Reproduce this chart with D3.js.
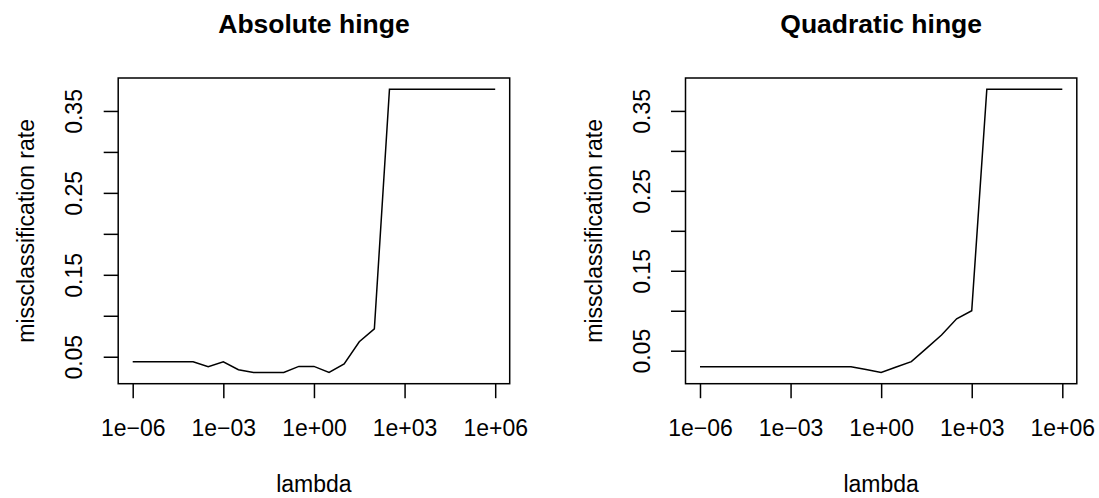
<!DOCTYPE html>
<html>
<head>
<meta charset="utf-8">
<script src="https://cdn.jsdelivr.net/npm/d3@7"></script>
<style>
  body { margin: 0; background: #fff; }
  text { font-family: "Liberation Sans", Arial, sans-serif; fill: #000; }
</style>
</head>
<body>
<svg id="chart" width="1099" height="498"></svg>
<script>
// lambda exponents: 10^-6 ... 10^6 in half-decade steps
const lambdaExp = [-6, -5.5, -5, -4.5, -4, -3.5, -3, -2.5, -2, -1.5, -1, -0.5,
  0, 0.5, 1, 1.5, 2, 2.5, 3, 3.5, 4, 4.5, 5, 5.5, 6];

// misclassification rate, absolute hinge
const absRate = [0.0439, 0.0439, 0.0439, 0.0439, 0.0439, 0.0378, 0.0439, 0.0341,
  0.0309, 0.0309, 0.0309, 0.0382, 0.0382, 0.0309, 0.0411, 0.0683, 0.0841,
  0.3764, 0.3764, 0.3764, 0.3764, 0.3764, 0.3764, 0.3764, 0.3764];

// misclassification rate, quadratic hinge
const quadRate = [0.030, 0.030, 0.030, 0.030, 0.030, 0.030, 0.030, 0.030,
  0.030, 0.030, 0.030, 0.0265, 0.0229, 0.0296, 0.0363, 0.0529, 0.0696,
  0.090, 0.100, 0.377, 0.377, 0.377, 0.377, 0.377, 0.377];

const xTicks = [1e-6, 1e-3, 1e0, 1e3, 1e6];
const xTickLabels = ["1e\u221206", "1e\u221203", "1e+00", "1e+03", "1e+06"];
const yTicks = [0.05, 0.10, 0.15, 0.20, 0.25, 0.30, 0.35];
const yTickLabels = ["0.05", "", "0.15", "", "0.25", "", "0.35"];

const titles = ["Absolute hinge", "Quadratic hinge"];
const series = [absRate, quadRate];

const svg = d3.select("#chart");
const panels = [
  { left: 118.2, right: 509.7 },
  { left: 685.5, right: 1076.8 }
];
const plotTop = 78, plotBottom = 383.7;
const fs = 23;

// R style axis range: data range extended by 4% each side
function pad(ext) {
  const d = (ext[1] - ext[0]) * 0.04;
  return [ext[0] - d, ext[1] + d];
}

panels.forEach((p, i) => {
  const vals = series[i];
  const xe = pad(d3.extent(lambdaExp));
  const x = d3.scaleLog()
    .domain([Math.pow(10, xe[0]), Math.pow(10, xe[1])])
    .range([p.left, p.right]);
  const y = d3.scaleLinear()
    .domain(pad(d3.extent(vals)))
    .range([plotBottom, plotTop]);

  const g = svg.append("g");

  // box
  g.append("rect")
    .attr("x", p.left).attr("y", plotTop)
    .attr("width", p.right - p.left).attr("height", plotBottom - plotTop)
    .attr("fill", "none").attr("stroke", "#000").attr("stroke-width", 1.5);

  // x axis
  const xa = g.append("g")
    .attr("transform", `translate(0,${plotBottom})`)
    .call(d3.axisBottom(x).tickValues(xTicks).tickSize(14.5).tickSizeOuter(0)
      .tickFormat((d, j) => xTickLabels[j]));
  xa.select(".domain").attr("stroke-width", 0);
  xa.selectAll("line").attr("stroke-width", 1.5);
  xa.selectAll("text").attr("font-size", fs).attr("dy", 0).attr("y", 52)
    .attr("font-family", "Liberation Sans, Arial, sans-serif");

  // y axis
  const ya = g.append("g")
    .attr("transform", `translate(${p.left},0)`)
    .call(d3.axisLeft(y).tickValues(yTicks).tickSize(14.5).tickSizeOuter(0)
      .tickFormat((d, j) => yTickLabels[j]));
  ya.select(".domain").attr("stroke-width", 0);
  ya.selectAll("line").attr("stroke-width", 1.5);
  ya.selectAll("text")
    .attr("font-size", fs)
    .attr("font-family", "Liberation Sans, Arial, sans-serif")
    .attr("x", null).attr("dy", null)
    .attr("text-anchor", "middle")
    .attr("transform", "translate(-36,0) rotate(-90)");

  // line
  const line = d3.line()
    .x((d, j) => x(Math.pow(10, lambdaExp[j])))
    .y(d => y(d));
  g.append("path")
    .datum(vals)
    .attr("d", line)
    .attr("fill", "none")
    .attr("stroke", "#000")
    .attr("stroke-width", 1.5);

  const cx = (p.left + p.right) / 2;
  // title
  g.append("text")
    .attr("x", cx).attr("y", 33)
    .attr("text-anchor", "middle")
    .attr("font-size", 26.5)
    .attr("font-weight", "bold")
    .text(titles[i]);

  // axis titles
  g.append("text")
    .attr("x", cx).attr("y", 491.5)
    .attr("text-anchor", "middle")
    .attr("font-size", fs)
    .text("lambda");

  g.append("text")
    .attr("transform", `translate(${p.left - 84},${(plotTop + plotBottom) / 2}) rotate(-90)`)
    .attr("text-anchor", "middle")
    .attr("font-size", fs)
    .text("missclassification rate");
});
</script>
</body>
</html>
